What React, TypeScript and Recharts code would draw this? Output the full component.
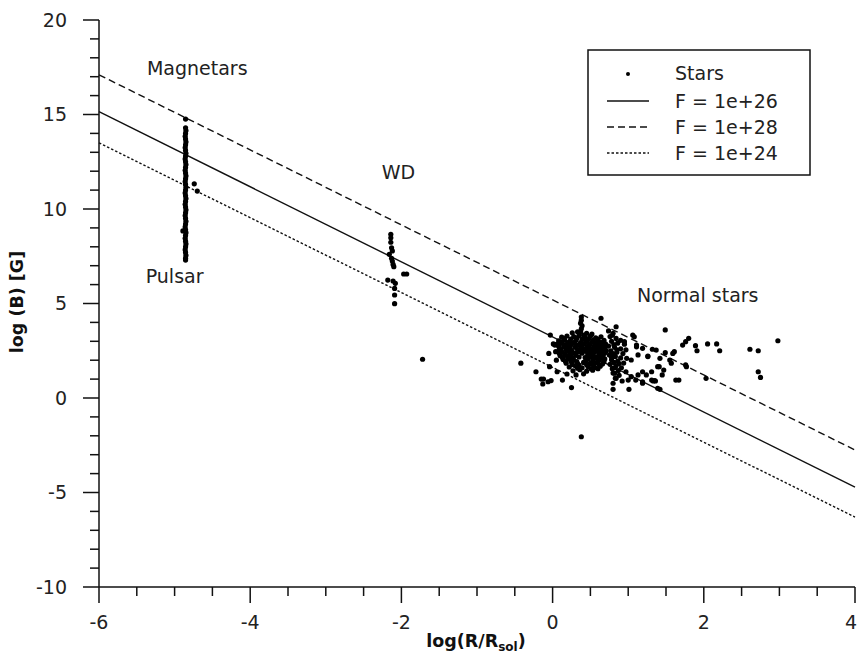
import React from 'react';
import { ScatterChart, Scatter, XAxis, YAxis, ReferenceDot } from 'recharts';

const xTicks = [-6, -5.5, -5, -4.5, -4, -3.5, -3, -2.5, -2, -1.5, -1, -0.5, 0, 0.5, 1, 1.5, 2, 2.5, 3, 3.5, 4];
const xMajor = [-6, -4, -2, 0, 2, 4];
const yTicks = [-10, -9, -8, -7, -6, -5, -4, -3, -2, -1, 0, 1, 2, 3, 4, 5, 6, 7, 8, 9, 10, 11, 12, 13, 14, 15, 16, 17, 18, 19, 20];
const yMajor = [-10, -5, 0, 5, 10, 15, 20];

const lineF26 = [{ x: -6, y: 15.15 }, { x: 4, y: -4.72 }];
const lineF28 = [{ x: -6, y: 17.1 }, { x: 4, y: -2.75 }];
const lineF24 = [{ x: -6, y: 13.5 }, { x: 4, y: -6.3 }];

const pulsarStars = [
  [-4.855, 14.76], [-4.855, 14.3], [-4.85, 14.15], [-4.855, 14.0], [-4.86, 13.85], [-4.855, 13.7],
  [-4.85, 13.55], [-4.855, 13.4], [-4.86, 13.25], [-4.855, 13.1], [-4.85, 12.95], [-4.855, 12.8],
  [-4.86, 12.65], [-4.855, 12.5], [-4.85, 12.35], [-4.855, 12.2], [-4.86, 12.05], [-4.855, 11.9],
  [-4.85, 11.75], [-4.855, 11.6], [-4.86, 11.45], [-4.855, 11.3], [-4.85, 11.15], [-4.855, 11.0],
  [-4.86, 10.85], [-4.855, 10.7], [-4.85, 10.55], [-4.855, 10.4], [-4.86, 10.25], [-4.855, 10.1],
  [-4.85, 9.95], [-4.855, 9.8], [-4.86, 9.65], [-4.855, 9.5], [-4.85, 9.35], [-4.855, 9.2],
  [-4.86, 9.05], [-4.855, 8.9], [-4.85, 8.75], [-4.855, 8.6], [-4.86, 8.45], [-4.855, 8.3],
  [-4.85, 8.15], [-4.855, 8.0], [-4.86, 7.85], [-4.855, 7.7], [-4.85, 7.55], [-4.855, 7.4], [-4.855, 7.3],
  [-4.74, 11.33], [-4.7, 10.95], [-4.89, 8.84],
];

const wdStars = [
  [-2.14, 8.66], [-2.14, 8.48], [-2.14, 8.24], [-2.13, 7.95], [-2.12, 7.78], [-2.16, 7.6],
  [-2.13, 7.39], [-2.12, 7.25], [-2.11, 7.07], [-2.1, 6.95], [-1.97, 6.56], [-1.93, 6.56],
  [-2.18, 6.24], [-2.11, 6.19], [-2.08, 6.07], [-2.09, 5.8], [-2.09, 5.45], [-2.09, 4.99],
  [-1.72, 2.05],
];

const normalStars = [
  [-0.42, 1.84], [-0.22, 1.39], [-0.15, 1.0], [-0.13, 0.74], [-0.06, 0.86], [-0.02, 0.92],
  [0.13, 0.95], [0.25, 0.55], [0.19, 1.27], [0.06, 1.39], [-0.04, 1.66], [-0.05, 2.36],
  [-0.03, 3.33], [0.01, 2.86], [0.38, -2.05], [0.03, 2.8], [0.08, 2.8], [0.04, 2.45],
  [0.05, 2.0], [-0.12, 1.0],
  [0.38, 4.28], [0.38, 4.12], [0.37, 3.96], [0.39, 3.82], [0.38, 3.66], [0.37, 3.52],
  [0.26, 3.45], [0.33, 3.5], [0.45, 3.42], [0.52, 3.38],
  [0.12, 3.22], [0.19, 3.28], [0.28, 3.25], [0.35, 3.3], [0.43, 3.2], [0.5, 3.27], [0.57, 3.18], [0.64, 3.24],
  [0.08, 3.02], [0.16, 3.08], [0.23, 3.0], [0.31, 3.06], [0.39, 3.1], [0.46, 3.01], [0.54, 3.07], [0.61, 2.98], [0.68, 3.05],
  [0.05, 2.84], [0.11, 2.9], [0.19, 2.82], [0.26, 2.88], [0.34, 2.8], [0.42, 2.87], [0.49, 2.83], [0.57, 2.9], [0.64, 2.81], [0.7, 2.86],
  [0.09, 2.64], [0.15, 2.7], [0.22, 2.62], [0.3, 2.68], [0.37, 2.6], [0.45, 2.66], [0.52, 2.62], [0.6, 2.69], [0.67, 2.61],
  [0.07, 2.46], [0.13, 2.42], [0.2, 2.48], [0.27, 2.4], [0.35, 2.45], [0.43, 2.5], [0.5, 2.41], [0.58, 2.47], [0.65, 2.43], [0.71, 2.5],
  [0.1, 2.24], [0.17, 2.28], [0.24, 2.2], [0.31, 2.26], [0.46, 2.22], [0.53, 2.29], [0.6, 2.21], [0.67, 2.27],
  [0.14, 2.04], [0.21, 2.08], [0.28, 2.0], [0.47, 2.05], [0.55, 2.1], [0.62, 2.02], [0.69, 2.07],
  [0.18, 1.84], [0.25, 1.9], [0.33, 1.82], [0.41, 1.88], [0.5, 1.83], [0.58, 1.87], [0.66, 1.8],
  [0.22, 1.64], [0.3, 1.7], [0.39, 1.6], [0.47, 1.66], [0.56, 1.62], [0.63, 1.68],
  [0.27, 1.44], [0.36, 1.5], [0.45, 1.42], [0.53, 1.47], [0.31, 1.22], [0.41, 1.28],
  // second layer filling the dense core
  [0.15, 3.15], [0.24, 3.12], [0.32, 3.18], [0.41, 3.33], [0.48, 3.14], [0.6, 3.1],
  [0.12, 2.96], [0.2, 2.93], [0.29, 2.95], [0.37, 2.93], [0.44, 2.97], [0.52, 2.95], [0.59, 2.78], [0.66, 2.95],
  [0.08, 2.74], [0.15, 2.78], [0.23, 2.74], [0.31, 2.77], [0.39, 2.73], [0.47, 2.75], [0.55, 2.74], [0.63, 2.72], [0.69, 2.72],
  [0.11, 2.55], [0.18, 2.57], [0.25, 2.52], [0.33, 2.56], [0.41, 2.58], [0.48, 2.53], [0.56, 2.56], [0.63, 2.55], [0.69, 2.6],
  [0.09, 2.35], [0.16, 2.34], [0.23, 2.32], [0.3, 2.36], [0.39, 2.37], [0.47, 2.33], [0.54, 2.36], [0.62, 2.33], [0.69, 2.38],
  [0.13, 2.14], [0.2, 2.16], [0.27, 2.12], [0.35, 2.17], [0.43, 2.14], [0.51, 2.18], [0.58, 2.15], [0.65, 2.14],
  [0.17, 1.95], [0.24, 1.98], [0.32, 1.93], [0.44, 1.96], [0.53, 1.95], [0.6, 1.96], [0.68, 1.92],
  [0.26, 1.77], [0.35, 1.74], [0.45, 1.76], [0.54, 1.74], [0.62, 1.76], [0.33, 1.58], [0.51, 1.55], [0.6, 1.55],
  [0.74, 3.55], [0.8, 3.42], [0.76, 3.25], [0.84, 3.15], [0.9, 3.05], [0.78, 3.0], [0.86, 2.9],
  [0.95, 2.85], [0.74, 2.75], [0.82, 2.68], [0.9, 2.6], [0.97, 2.55], [0.77, 2.5], [0.85, 2.42],
  [0.93, 2.35], [0.75, 2.28], [0.83, 2.2], [0.9, 2.12], [0.98, 2.1], [0.78, 2.02], [0.86, 1.95],
  [0.94, 1.85], [0.76, 1.78], [0.84, 1.7], [0.91, 1.6], [0.79, 1.55], [0.87, 1.45], [0.8, 1.32],
  [0.88, 1.2], [0.83, 1.05], [0.8, 0.78], [0.8, 0.46], [0.92, 0.9],
  [0.79, 3.32], [0.81, 2.82], [0.8, 2.35], [0.81, 1.88], [0.82, 1.6], [0.85, 2.55], [0.78, 2.15], [0.88, 1.82],
  [0.64, 4.22], [0.84, 3.77], [1.06, 3.33], [1.08, 3.24], [0.95, 2.98], [1.11, 2.71],
  [1.11, 2.8], [1.19, 2.63], [1.26, 2.19], [1.13, 2.28], [1.04, 2.01], [0.97, 1.39],
  [1.04, 1.13], [1.0, 0.95], [1.1, 0.95], [1.19, 0.86], [1.13, 1.22], [0.82, 1.31],
  [0.84, 1.04], [1.01, 0.46], [1.31, 0.95], [1.35, 0.92], [1.31, 1.39], [1.39, 1.66], [1.37, 2.54],
  [1.49, 3.6], [1.8, 3.16], [1.76, 2.98], [1.72, 2.8], [1.89, 2.77], [1.91, 2.5], [2.05, 2.86],
  [2.17, 2.86], [2.21, 2.5], [2.61, 2.58], [2.72, 2.5], [2.98, 3.03], [2.72, 1.39], [2.75, 1.09],
  [2.03, 1.04], [1.76, 1.75], [1.77, 1.66], [1.63, 0.95], [1.67, 0.95], [1.59, 2.36], [1.61, 2.45],
  [1.55, 2.01], [1.57, 1.84], [1.49, 2.4], [1.42, 2.1], [1.32, 2.58], [1.26, 2.22], [1.41, 1.66],
  [1.47, 1.48], [1.45, 1.22], [1.19, 1.39], [1.24, 1.22], [1.33, 0.9], [1.36, 0.9], [1.19, 0.78],
  [1.39, 0.51], [1.42, 0.46],
];

const stars = [...pulsarStars, ...wdStars, ...normalStars].map(([x, y]) => ({ x, y }));

const ink = '#111';
const font = 'DejaVu Sans, sans-serif';

const YTick = (props: any) => {
  const { x, y, payload } = props;
  const major = yMajor.includes(payload.value);
  return (
    <g>
      <line x1={x - (major ? 16 : 9)} x2={x} y1={y} y2={y} stroke={ink} strokeWidth={1.5} />
      {major && (
        <text x={x - 32} y={y} dy="0.36em" textAnchor="end" fontSize={19} fill="#222">
          {payload.value}
        </text>
      )}
    </g>
  );
};

const XTick = (props: any) => {
  const { x, y, payload } = props;
  const major = xMajor.includes(payload.value);
  // the last label sits on the page edge, keep it inside
  const last = payload.value === xTicks[xTicks.length - 1];
  return (
    <g>
      <line x1={x} x2={x} y1={y} y2={y + (major ? 16 : 9)} stroke={ink} strokeWidth={1.5} />
      {major && (
        <text x={last ? x + 2 : x} y={y + 42} textAnchor={last ? 'end' : 'middle'} fontSize={19} fill="#222">
          {payload.value}
        </text>
      )}
    </g>
  );
};

const Dot = (props: any) => <circle cx={props.cx} cy={props.cy} r={2.6} fill="#000" />;
const NoDot = () => <g />;

const note = (value: string) => ({ value, position: 'center' as const, fontSize: 19, fill: '#222' });

export default function App() {
  return (
    <div style={{ position: 'absolute', left: 0, top: 0, width: 858, height: 656, background: '#fff', fontFamily: font }}>
      <ScatterChart width={858} height={656} margin={{ top: 20, right: 3, bottom: 9, left: 0 }}>
        <XAxis
          type="number"
          dataKey="x"
          domain={[-6, 4]}
          ticks={xTicks}
          interval={0}
          tickSize={0}
          tickMargin={0}
          tickLine={false}
          tick={<XTick />}
          height={60}
          axisLine={{ stroke: ink, strokeWidth: 1.5 }}
        />
        <YAxis
          type="number"
          dataKey="y"
          domain={[-10, 20]}
          ticks={yTicks}
          interval={0}
          tickSize={0}
          tickMargin={0}
          tickLine={false}
          tick={<YTick />}
          width={99}
          axisLine={{ stroke: ink, strokeWidth: 1.5 }}
        />
        <Scatter data={lineF28} shape={NoDot} line={{ stroke: ink, strokeWidth: 1.4, strokeDasharray: '7 4' }} isAnimationActive={false} />
        <Scatter data={lineF26} shape={NoDot} line={{ stroke: ink, strokeWidth: 1.4 }} isAnimationActive={false} />
        <Scatter data={lineF24} shape={NoDot} line={{ stroke: ink, strokeWidth: 1.4, strokeDasharray: '2.5 2' }} isAnimationActive={false} />
        <Scatter data={stars} shape={Dot} isAnimationActive={false} />
        <ReferenceDot x={-4.7} y={17.46} r={0} stroke="none" label={note('Magnetars')} />
        <ReferenceDot x={-2.04} y={11.96} r={0} stroke="none" label={note('WD')} />
        <ReferenceDot x={-5.0} y={6.46} r={0} stroke="none" label={note('Pulsar')} />
        <ReferenceDot x={1.92} y={5.45} r={0} stroke="none" label={note('Normal stars')} />
      </ScatterChart>
      <svg width={858} height={656} style={{ position: 'absolute', left: 0, top: 0, pointerEvents: 'none' }}>
        <text transform="translate(23,302) rotate(-90)" textAnchor="middle" fontSize={17.5} fontWeight="bold" fill="#111">
          log (B) [G]
        </text>
        <text x={476} y={647} textAnchor="middle" fontSize={17.5} fontWeight="bold" fill="#111">
          log(R/R<tspan fontSize={12} dy={4}>sol</tspan><tspan dy={-4}>)</tspan>
        </text>
        <rect x={588} y={50} width={222} height={125} fill="#fff" stroke={ink} strokeWidth={1.5} />
        <circle cx={628} cy={74} r={2} fill="#000" />
        <line x1={607} x2={649} y1={101} y2={101} stroke={ink} strokeWidth={1.3} />
        <line x1={607} x2={649} y1={127} y2={127} stroke={ink} strokeWidth={1.3} strokeDasharray="7 4" />
        <line x1={607} x2={649} y1={153} y2={153} stroke={ink} strokeWidth={1.3} strokeDasharray="2.5 2" />
        <text x={675} y={80} fontSize={19} fill="#222">Stars</text>
        <text x={675} y={108} fontSize={19} fill="#222">F = 1e+26</text>
        <text x={675} y={134} fontSize={19} fill="#222">F = 1e+28</text>
        <text x={675} y={160} fontSize={19} fill="#222">F = 1e+24</text>
      </svg>
    </div>
  );
}
